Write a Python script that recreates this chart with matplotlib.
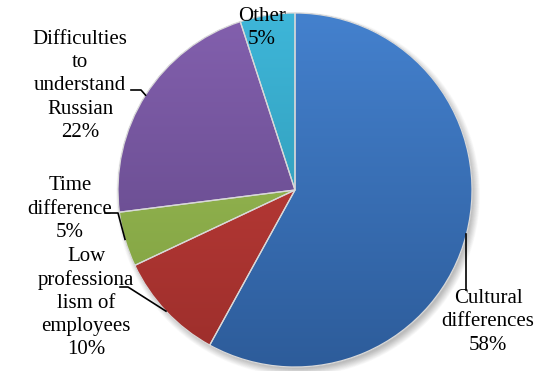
import matplotlib
matplotlib.use("Agg")
import matplotlib.pyplot as plt
import numpy as np
from matplotlib.colors import LinearSegmentedColormap
from matplotlib.patches import Wedge
from matplotlib import font_manager as fm

serif = fm.FontProperties(fname=fm.findfont("Liberation Serif"), size=15)

# Share of answers per problem
categories = ["Cultural\ndifferences", "Low\nprofessiona\nlism of\nemployees",
              "Time\ndifference", "Difficulties\nto\nunderstand\nRussian", "Other"]
shares = [58, 10, 5, 22, 5]

# light (top) -> dark (bottom) shades for each slice
top_colors = ["#4481CE", "#C8403C", "#A2C25C", "#8360AE", "#3EB6D9"]
bottom_colors = ["#2D5C9A", "#9C2E2B", "#7B9D3D", "#5D4482", "#2A8FA8"]

W, H = 537, 371
fig = plt.figure(figsize=(W / 100, H / 100), dpi=100)
ax = fig.add_axes([0, 0, 1, 1])

cx, cy, r = 295, H - 190, 177

# soft shadow under the pie
for k in range(14):
    ax.add_patch(plt.Circle((cx + 3, cy - 4), r + 5 - k * 0.6, color="black",
                            alpha=0.02, lw=0))

wedges, _ = ax.pie(shares, startangle=90, counterclock=False, radius=r,
                   center=(cx, cy), frame=True,
                   wedgeprops=dict(linewidth=0))

grad = np.linspace(0, 1, 256).reshape(-1, 1)
for w, c0, c1 in zip(wedges, top_colors, bottom_colors):
    w.set_facecolor(c1)
    cmap = LinearSegmentedColormap.from_list("g", [c0, c1])
    im = ax.imshow(grad, cmap=cmap, aspect="auto", origin="upper",
                   extent=(cx - r, cx + r, cy - r, cy + r), zorder=2)
    im.set_clip_path(w)
    # thin light separators
    ax.add_patch(Wedge((cx, cy), r, w.theta1, w.theta2, facecolor="none",
                       edgecolor="#D9D9D9", lw=0.9, zorder=3))
ax.set_xlim(0, W)
ax.set_ylim(0, H)
ax.set_aspect("equal")
ax.axis("off")

# label placement: text centre and elbow of the leader line (pixels from top-left)
text_pos = [(488, 322), (86, 303), (70, 209), (80, 86), (262, 28)]
elbows = [None, [(120, 287), (128, 287)], [(105, 213), (118, 213)],
          [(131, 90), (141, 90)], None]

for w, name, val, (tx, ty), el in zip(wedges, categories, shares, text_pos, elbows):
    ax.text(tx, H - ty, f"{name}\n{val}%", fontproperties=serif, ha="center",
            va="center", linespacing=1.3, zorder=5)
    mid = np.deg2rad((w.theta1 + w.theta2) / 2)
    ex, ey = cx + r * np.cos(mid), cy + r * np.sin(mid)
    if el is not None:
        xs = [p[0] for p in el] + [ex]
        ys = [H - p[1] for p in el] + [ey]
        ax.plot(xs, ys, color="black", lw=1.2, zorder=4)
    elif name.startswith("Cultural"):
        ax.plot([ex, ex], [ey, H - 290], color="black", lw=1.2, zorder=4)

fig.savefig("out.png", dpi=100)
